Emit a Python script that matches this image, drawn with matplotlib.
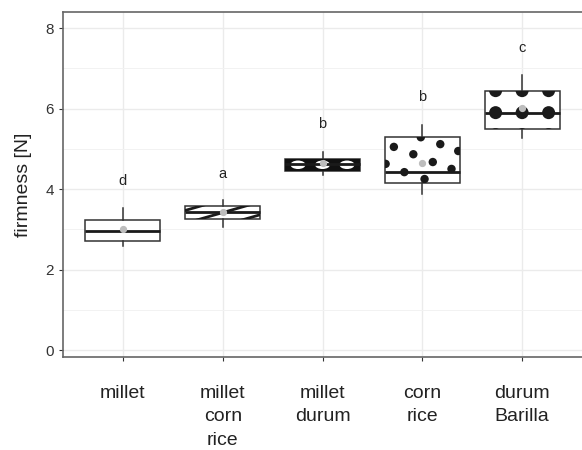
import matplotlib
matplotlib.use("Agg")
import matplotlib.pyplot as plt
from matplotlib.patches import Ellipse, Rectangle
import numpy as np

plt.rcParams['font.family'] = ['Liberation Sans', 'DejaVu Sans']

# Firmness summary per pasta blend
categories = ["millet", "millet\ncorn\nrice", "millet\ndurum", "corn\nrice", "durum\nBarilla"]
q1 = [2.72, 3.25, 4.45, 4.16, 5.50]
median = [2.96, 3.42, 4.62, 4.42, 5.90]
q3 = [3.23, 3.58, 4.76, 5.30, 6.44]
whisker_low = [2.58, 3.05, 4.35, 3.89, 5.28]
whisker_high = [3.52, 3.73, 4.93, 5.59, 6.83]
means = [3.00, 3.42, 4.64, 4.65, 6.02]
letters = ["d", "a", "b", "b", "c"]
letter_y = [4.20, 4.38, 5.62, 6.29, 7.50]
y_ticks = [0, 2, 4, 6, 8]

W, H = 582, 450
fig = plt.figure(figsize=(W / 100, H / 100), dpi=100)
ax = fig.add_axes([63 / W, (H - 357) / H, 1 - 63 / W, (357 - 12) / H])
xlim = (0.4, 5.6)
ylim = (-0.17, 8.40)

# pixel -> data scale factors
ax_w_px = ax.get_position().width * W
ax_h_px = ax.get_position().height * H
px_x = (xlim[1] - xlim[0]) / ax_w_px
px_y = (ylim[1] - ylim[0]) / ax_h_px

positions = list(range(1, len(categories) + 1))
stats = []
for i in range(len(categories)):
    stats.append(dict(med=median[i], q1=q1[i], q3=q3[i], whislo=whisker_low[i],
                      whishi=whisker_high[i], mean=means[i], fliers=[]))

bw = 0.75
bp = ax.bxp(stats, positions=positions, widths=bw, patch_artist=True,
            showcaps=False, showmeans=True, showfliers=False, manage_ticks=False,
            boxprops=dict(facecolor='white', edgecolor='#333333', lw=1.1),
            whiskerprops=dict(color='#333333', lw=1.1),
            medianprops=dict(color='#1a1a1a', lw=2.0),
            meanprops=dict(marker='o', markersize=4.2, markerfacecolor='#bdbdbd',
                           markeredgecolor='#bdbdbd'))
for b in bp['boxes']:
    b.set_zorder(2)
for m in bp['medians']:
    m.set_zorder(5)
for m in bp['means']:
    m.set_zorder(6)

ax.set_xlim(*xlim)
ax.set_ylim(*ylim)

# grid
ax.set_yticks(y_ticks)
ax.set_yticks([1, 3, 5, 7], minor=True)
ax.set_xticks(positions)
ax.grid(True, which='major', color='#ebebeb', lw=1.0, zorder=0)
ax.grid(True, which='minor', axis='y', color='#f2f2f2', lw=0.7, zorder=0)
ax.set_axisbelow(True)


def clip(artist, box):
    ax.add_artist(artist)
    artist.set_clip_path(box)


def ell(cx, cy, r_px, color):
    return Ellipse((cx, cy), 2 * r_px * px_x, 2 * r_px * px_y,
                   facecolor=color, edgecolor='none', zorder=3)


# stripes on box 2
box = bp['boxes'][1]
x0 = positions[1] - bw / 2
for k in range(-3, 6):
    sx = x0 + k * 45 * px_x
    xs = np.array([sx, sx + 200 * px_x])
    ys = q1[1] + (xs - sx) / px_x * np.tan(np.radians(16)) * px_y - 4 * px_y
    ln = plt.Line2D(xs, ys, color='#1a1a1a', lw=2.0, zorder=3)
    clip(ln, box)

# weave on box 3
box = bp['boxes'][2]
x0 = positions[2] - bw / 2
bg = Rectangle((x0, q1[2]), bw, q3[2] - q1[2], facecolor='#111111',
               edgecolor='none', zorder=2.5)
clip(bg, box)
cy = (q1[2] + q3[2]) / 2
for k in range(-1, 4):
    cx = positions[2] + (k - 1) * 24.5 * px_x
    e = Ellipse((cx, cy), 15 * px_x, 8.5 * px_y, facecolor='white',
                edgecolor='none', zorder=3)
    clip(e, box)

# dots on box 4
box = bp['boxes'][3]
x0 = positions[3] - bw / 2
dot_fx = [0.48, 0.12, 0.74, 0.98, 0.38, 0.64, 0.01, 0.26, 0.89, 0.53]
dot_fy = [0.99, 0.78, 0.84, 0.69, 0.62, 0.45, 0.41, 0.23, 0.30, 0.08]
for fx, fy in zip(dot_fx, dot_fy):
    cx = x0 + fx * bw
    cyy = q1[3] + fy * (q3[3] - q1[3])
    clip(ell(cx, cyy, 4.2, '#1a1a1a'), box)

# large circle grid on box 5
box = bp['boxes'][4]
for row in range(-2, 2):
    cyy = median[4] + row * 22 * px_y
    for col in range(-2, 3):
        cx = positions[4] + col * 26.5 * px_x
        clip(ell(cx, cyy, 6.5, '#1a1a1a'), box)

# significance letters
for p, lt, ly in zip(positions, letters, letter_y):
    ax.text(p, ly, lt, ha='center', va='center', fontsize=10.5, color='#222222')

ax.set_xticklabels(categories, fontsize=14, color='#222222', linespacing=1.5)
ax.set_yticklabels([str(t) for t in y_ticks], fontsize=11, color='#333333')
ax.tick_params(axis='both', which='major', length=3, color='#333333', width=0.8)
ax.tick_params(axis='x', pad=17)
ax.tick_params(axis='y', which='minor', length=0)
ax.set_ylabel("firmness [N]", fontsize=14, color='#222222', labelpad=10)

for s in ['top', 'bottom', 'left']:
    ax.spines[s].set_color('#666666')
    ax.spines[s].set_linewidth(1.2)
ax.spines['right'].set_visible(False)

fig.savefig("out.png", dpi=100)
